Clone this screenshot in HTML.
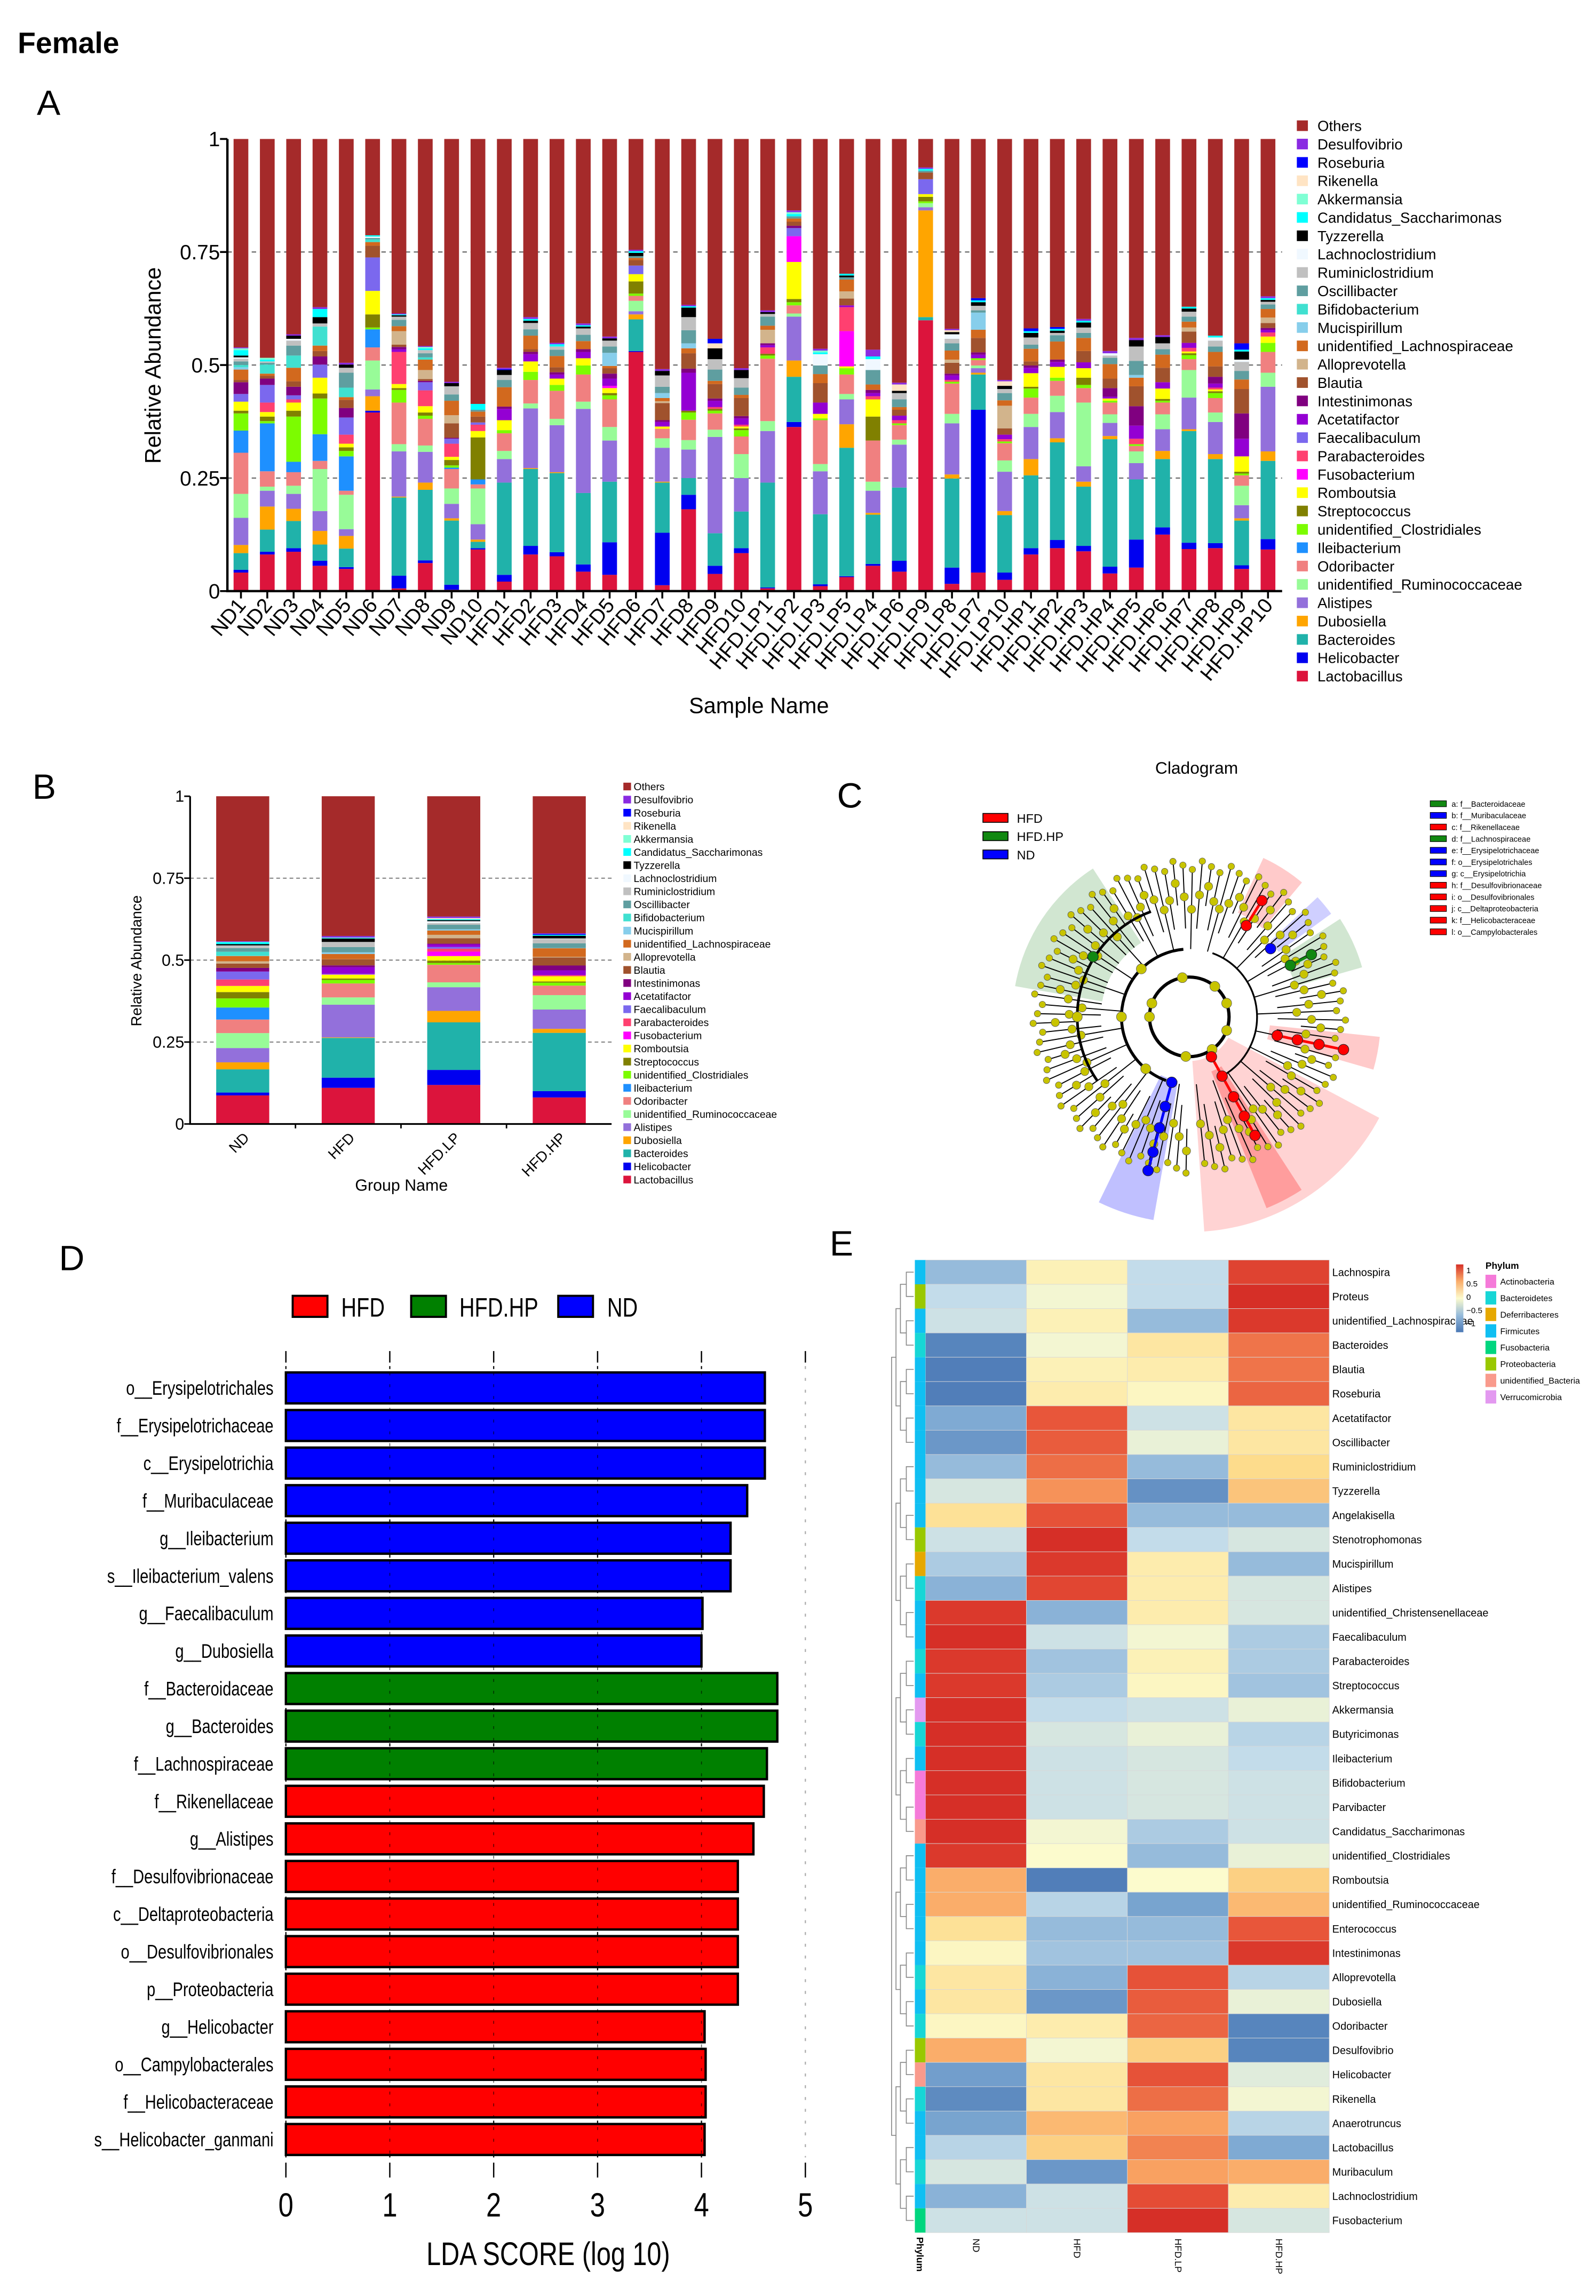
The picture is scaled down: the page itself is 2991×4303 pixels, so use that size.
<!DOCTYPE html>
<html><head><meta charset="utf-8">
<style>
html,body{margin:0;padding:0;background:#fff;}
svg{display:block;}
text{font-family:"Liberation Sans",sans-serif;fill:#000;}
</style></head>
<body>
<svg id="fig" xmlns="http://www.w3.org/2000/svg" width="2991" height="4303" viewBox="0 0 1083 1558" preserveAspectRatio="none">
<rect x="0" y="0" width="1083" height="1558" fill="#fff"/>
<text x="12" y="36" font-size="20" font-weight="bold">Female</text>
<text x="25" y="78" font-size="24">A</text>
<text x="22" y="542" font-size="24">B</text>
<text x="568" y="548" font-size="24">C</text>
<text x="40" y="862" font-size="24">D</text>
<text x="563" y="852" font-size="24">E</text>
<g id="pa"></g>
<g id="pb"></g>
<g id="pc"></g>
<g id="pd"></g>
<g id="pe"></g>
</svg>
<script>
// ---------- Panel A data ----------
const samples = ['ND1','ND2','ND3','ND4','ND5','ND6','ND7','ND8','ND9','ND10','HFD1','HFD2','HFD3','HFD4','HFD5','HFD6','HFD7','HFD8','HFD9','HFD10','HFD.LP1','HFD.LP2','HFD.LP3','HFD.LP5','HFD.LP4','HFD.LP6','HFD.LP9','HFD.LP8','HFD.LP7','HFD.LP10','HFD.HP1','HFD.HP2','HFD.HP3','HFD.HP4','HFD.HP5','HFD.HP6','HFD.HP7','HFD.HP8','HFD.HP9','HFD.HP10'];
// stack order bottom -> top (Others computed as remainder)
const genera = ['Lactobacillus','Helicobacter','Bacteroides','Dubosiella','Alistipes','unidentified_Ruminococcaceae','Odoribacter','Ileibacterium','unidentified_Clostridiales','Streptococcus','Romboutsia','Fusobacterium','Parabacteroides','Faecalibaculum','Acetatifactor','Intestinimonas','Blautia','Alloprevotella','unidentified_Lachnospiraceae','Mucispirillum','Bifidobacterium','Oscillibacter','Ruminiclostridium','Lachnoclostridium','Tyzzerella','Candidatus_Saccharimonas','Akkermansia','Rikenella','Roseburia','Desulfovibrio'];
const genusColors = ['#dc143c','#0000f0','#20b2aa','#ffa500','#9370db','#98fb98','#f08080','#1e90ff','#7cfc00','#808000','#ffff00','#ff00ff','#ff4070','#7b68ee','#9400d3','#800080','#a0522d','#d2b48c','#d2691e','#87ceeb','#40e0d0','#5f9ea0','#c0c0c0','#f0f8ff','#000000','#00ffff','#7fffd4','#ffe4c4','#0000ff','#8a2be2'];
const othersColor = '#a52a2a';
const vLac=[.041,.081,.087,.056,.049,.395,.006,.062,.003,.092, .021,.081,.077,.043,.036,.529,.013,.181,.038,.084, .006,.363,.011,.031,.056,.043,.599,.016,.041,.025, .081,.095,.088,.039,.052,.125,.093,.095,.049,.092];
const vHel=[.006,.006,.008,.011,.004,.004,.028,.006,.011,.003, .015,.019,.009,.016,.072,.002,.116,.032,.018,.011, .002,.011,.004,.002,.004,.024,0,.036,.36,.016, .014,.018,.012,.015,.062,.016,.014,.011,.008,.023];
const vBac=[.037,.049,.06,.036,.041,0,.173,.156,.142,.014, .204,.17,.175,.158,.134,.07,.111,.037,.072,.081, .232,.1,.155,.284,.109,.162,.007,.197,.078,.127, .161,.216,.131,.282,.133,.151,.247,.186,.099,.173];
const vDub=[.018,.051,.027,.03,.028,.032,.002,.016,.005,.005, 0,.002,.002,0,0,.011,.002,0,0,0, 0,.036,0,.052,.004,0,.236,.009,.004,.009, .036,.009,.011,.007,0,.018,.004,.011,.005,.021];
const vAli=[.06,.035,.033,.044,.015,.015,.1,.068,.032,.034, .052,.132,.104,.186,.091,.007,.075,.063,.213,.074, .114,.097,.095,.055,.049,.095,.007,.113,.01,.087, .071,.058,.034,.029,.036,.048,.07,.071,.029,.143];
const vRum=[.053,.009,.018,.093,.076,.064,.016,.014,.034,.079, .018,.011,.014,.016,.03,.023,.021,.021,.016,.053, .022,.007,.016,.012,.02,.011,.009,.021,.006,.025, .029,.036,.141,.019,.026,.033,.061,.021,.043,.031];
const vOdo=[.091,.034,.03,.018,.009,.029,.092,.059,.043,.009, .039,.052,.062,.06,.061,.011,.021,.045,.036,.039, .138,.018,.097,.043,.091,.032,0,.067,.012,.038, .036,.033,.032,.026,.012,.026,.024,.032,.023,.046];
const vIle=[.049,.106,.023,.059,.076,.04,0,0,.003,.011, 0,0,0,0,0,0,0,0,0,0, 0,0,0,0,0,0,0,0,0,0, 0,0,0,0,0,0,0,0,0,0];
const vClo=[.038,.005,.1,.079,.012,.004,.028,.007,.005,0, .007,.018,.013,.02,.009,.005,0,.016,.006,.014, .007,.007,.004,.014,0,.004,.004,.004,.004,.004, .02,.007,.007,.004,.004,.004,.009,.011,.004,.02];
const vStr=[.006,.01,.013,.011,.008,.029,.004,.007,.012,.093, 0,0,0,0,.005,.027,0,.004,.004,.004, .004,.007,0,0,.053,0,.01,0,0,0, .004,0,.016,0,0,.004,.004,.004,.004,0];
const vRom=[.02,.01,.018,.035,.008,.052,.009,.014,.007,.014, .022,.023,.014,.016,.011,.016,.005,0,0,.004, 0,.082,.01,.004,.038,0,.006,0,0,0, .03,.024,.021,.005,0,.023,.004,.004,.034,.014];
const vFus=[0,0,0,0,0,0,0,0,0,0, 0,0,0,0,.005,0,0,0,0,0, 0,.057,0,.078,0,0,0,0,0,0, 0,0,0,0,0,0,0,0,0,0];
const vPar=[0,.021,.007,0,.02,0,.071,.035,.029,.014, 0,0,0,0,0,0,0,0,.004,.004, .014,0,0,.053,.007,.007,0,.004,0,.005, 0,0,0,0,.012,0,.008,.004,0,.009];
const vFae=[.017,.039,.009,.029,.038,.074,0,.018,.011,.005, 0,0,0,0,0,.019,0,0,0,0, 0,.018,0,0,0,0,.033,0,0,0, 0,0,0,0,0,0,0,0,0,0];
const vAce=[0,0,0,0,0,0,.006,0,0,0, .025,.016,.009,.014,.016,0,.01,.084,.014,.014, .005,0,.025,.004,.007,.01,0,.01,.008,.01, .012,.011,.013,.004,.029,.014,.011,.009,.039,.006];
const vInt=[.026,.014,.019,.018,.021,0,.005,.003,.002,0, .005,.005,.005,.006,.011,0,.004,.009,.005,.005, .004,.005,0,0,.007,0,0,.004,.005,0, .005,.005,0,.019,.043,0,0,.015,.056,.004];
const vBla=[.005,.006,.012,.012,.018,.026,.005,.004,.032,.013, 0,.006,.011,0,.012,.012,.038,.034,.032,.04, 0,.009,.043,.015,0,.013,.015,.024,.032,.014, .009,0,.025,.021,.044,.032,.025,.023,.054,.011];
const vAll=[0,0,0,0,0,0,.03,.02,.018,0, 0,0,0,0,0,0,.004,0,0,0, .03,0,0,.016,0,0,0,.007,0,.05, 0,0,0,0,0,0,.009,0,0,.012];
const vLach=[.023,.005,.03,.012,.006,.008,.011,.023,.032,.011, .043,.03,.025,.018,.005,.005,.007,.011,.007,.007, .009,.007,.02,.026,.012,.006,0,.02,.018,.012, .028,.04,.029,.032,.019,.029,.013,.032,.021,.019];
const vMuc=[.005,0,0,0,0,0,0,0,0,0, 0,0,0,0,.029,0,.011,.011,0,0, 0,0,0,0,0,0,0,0,.038,0, 0,0,0,0,.006,0,0,0,0,0];
const vBif=[.005,.02,.027,.042,.021,.006,0,.005,0,0, 0,0,0,0,0,0,0,0,0,0, 0,0,0,0,0,0,0,0,0,0, 0,0,0,0,0,0,0,0,0,0];
const vOsc=[.008,.004,.022,0,.033,.003,.014,.009,.014,.004, .016,.014,.014,.014,.014,.004,.014,.029,.025,.016, .02,.005,.019,.005,.032,.017,.004,.016,.005,.016, .009,.014,.011,.014,.031,.012,.011,.012,.019,.01];
const vRmc=[.006,.003,.011,.007,.011,0,.007,.007,.018,0, .011,.014,.007,.014,.013,0,.025,.029,.023,.021, .006,0,0,0,0,.014,0,.01,.01,.009, .016,.005,.012,.005,.032,.013,.011,.013,.02,.006];
const vLcl=[.003,0,.004,0,0,.003,0,0,0,0, 0,0,0,0,0,0,0,0,0,0, 0,0,.025,0,.024,0,0,.01,0,0, 0,0,0,.005,0,0,0,.007,.005,0];
const vTyz=[.004,0,.007,.014,.007,0,.003,0,.007,0, .011,.005,0,.004,.005,.007,.01,.021,.024,.018, .004,0,0,.004,0,.005,0,.005,.008,.007, .01,.005,.011,0,.014,.014,.007,0,.018,.004];
const vCan=[.012,.004,0,.018,0,.003,.002,.004,0,.013, 0,.004,.005,.003,0,.004,0,.003,0,0, 0,.005,.004,.004,.006,0,.004,0,.004,0, .004,.004,.004,0,0,0,.004,.004,.004,.004];
const vAkk=[.004,.004,0,0,0,0,0,.003,0,0, 0,0,0,0,0,0,0,0,0,0, 0,.004,.004,0,0,0,0,0,0,0, 0,0,0,0,0,0,0,0,0,0];
const vRik=[0,0,0,0,0,0,0,0,0,0, 0,0,0,0,0,0,0,0,.011,0, 0,0,0,0,0,.014,0,.004,0,.01, 0,0,0,0,0,0,0,0,0,0];
const vRos=[0,0,0,0,0,0,0,0,0,0, .002,0,0,0,0,0,0,0,.01,0, 0,0,0,0,0,0,0,0,.005,0, .006,.004,0,0,0,0,0,0,.014,0];
const vDes=[.002,0,.003,.004,.004,0,.002,.002,.003,0, .003,.004,.003,.004,.004,.003,.004,.003,0,.004, .004,.004,.004,0,.015,.004,.003,.003,0,.003, 0,0,.004,.005,.005,.004,0,0,0,.004];
const seriesA = [vLac,vHel,vBac,vDub,vAli,vRum,vOdo,vIle,vClo,vStr,vRom,vFus,vPar,vFae,vAce,vInt,vBla,vAll,vLach,vMuc,vBif,vOsc,vRmc,vLcl,vTyz,vCan,vAkk,vRik,vRos,vDes];
const yTicksA = [0,0.25,0.5,0.75,1];
const yTickLabelsA = ['0','0.25','0.5','0.75','1'];

// ---------- Panel B ----------
const groupNames = ['ND','HFD','HFD.LP','HFD.HP'];

// ---------- Panel D data ----------
const ldaLabels = ['o__Erysipelotrichales','f__Erysipelotrichaceae','c__Erysipelotrichia','f__Muribaculaceae','g__Ileibacterium','s__Ileibacterium_valens','g__Faecalibaculum','g__Dubosiella','f__Bacteroidaceae','g__Bacteroides','f__Lachnospiraceae','f__Rikenellaceae','g__Alistipes','f__Desulfovibrionaceae','c__Deltaproteobacteria','o__Desulfovibrionales','p__Proteobacteria','g__Helicobacter','o__Campylobacterales','f__Helicobacteraceae','s__Helicobacter_ganmani'];
const ldaValues = [4.61,4.61,4.61,4.44,4.28,4.28,4.01,4.00,4.73,4.73,4.63,4.60,4.50,4.35,4.35,4.35,4.35,4.03,4.04,4.04,4.03];
const ldaGroups = ['ND','ND','ND','ND','ND','ND','ND','ND','HFD.HP','HFD.HP','HFD.HP','HFD','HFD','HFD','HFD','HFD','HFD','HFD','HFD','HFD','HFD'];
const ldaTicks = [0,1,2,3,4,5];

// ---------- Panel E data ----------
const hmRows = ['Lachnospira','Proteus','unidentified_Lachnospiraceae','Bacteroides','Blautia','Roseburia','Acetatifactor','Oscillibacter','Ruminiclostridium','Tyzzerella','Angelakisella','Stenotrophomonas','Mucispirillum','Alistipes','unidentified_Christensenellaceae','Faecalibaculum','Parabacteroides','Streptococcus','Akkermansia','Butyricimonas','Ileibacterium','Bifidobacterium','Parvibacter','Candidatus_Saccharimonas','unidentified_Clostridiales','Romboutsia','unidentified_Ruminococcaceae','Enterococcus','Intestinimonas','Alloprevotella','Dubosiella','Odoribacter','Desulfovibrio','Helicobacter','Rikenella','Anaerotruncus','Lactobacillus','Muribaculum','Lachnoclostridium','Fusobacterium'];
const hmCols = ['ND','HFD','HFD.LP','HFD.HP'];
const hmND  = [-0.5,-0.3,-0.25,-0.9,-0.95,-0.95,-0.6,-0.75,-0.5,-0.2,0.25,-0.25,-0.4,-0.55,0.95,1,0.95,0.95,1,1,1,1,1,1,0.95,0.5,0.5,0.25,0.05,0.2,0.2,0.05,0.5,-0.7,-0.85,-0.65,-0.35,-0.2,-0.55,-0.25];
const hmHFD = [0.1,-0.05,0.1,-0.05,0.1,0.15,0.8,0.78,0.72,0.6,0.82,1,0.95,0.88,-0.55,-0.25,-0.45,-0.4,-0.3,-0.2,-0.25,-0.25,-0.25,-0.05,0,-0.95,-0.35,-0.5,-0.45,-0.55,-0.75,0.15,-0.05,0.2,0.2,0.45,0.35,-0.75,-0.25,-0.25];
const hmLP  = [-0.3,-0.3,-0.5,0.2,0.15,0.05,-0.25,-0.1,-0.5,-0.8,-0.5,-0.3,0.15,0.15,0.15,-0.05,0.1,0.05,-0.25,-0.1,-0.2,-0.2,-0.2,-0.4,-0.5,0,-0.65,-0.5,-0.45,0.82,0.78,0.75,0.35,0.82,0.72,0.55,0.65,0.55,0.85,1];
const hmHP  = [0.9,1,0.95,0.7,0.7,0.75,0.2,0.2,0.3,0.4,-0.5,-0.2,-0.5,-0.2,-0.2,-0.4,-0.4,-0.45,-0.1,-0.35,-0.3,-0.25,-0.25,-0.25,-0.1,0.35,0.45,0.8,0.95,-0.35,-0.1,-0.9,-0.9,-0.15,-0.05,-0.35,-0.6,0.5,0.15,-0.2];
const hmPhylum = ['Firmicutes','Proteobacteria','Firmicutes','Bacteroidetes','Firmicutes','Firmicutes','Firmicutes','Firmicutes','Firmicutes','Firmicutes','Firmicutes','Proteobacteria','Deferribacteres','Bacteroidetes','Firmicutes','Firmicutes','Bacteroidetes','Firmicutes','Verrucomicrobia','Bacteroidetes','Firmicutes','Actinobacteria','Actinobacteria','unidentified_Bacteria','Firmicutes','Firmicutes','Firmicutes','Firmicutes','Firmicutes','Bacteroidetes','Firmicutes','Bacteroidetes','Proteobacteria','unidentified_Bacteria','Bacteroidetes','Firmicutes','Firmicutes','Bacteroidetes','Firmicutes','Fusobacteria'];
const phylumNames = ['Actinobacteria','Bacteroidetes','Deferribacteres','Firmicutes','Fusobacteria','Proteobacteria','unidentified_Bacteria','Verrucomicrobia'];
const phylumColors = ['#f57ad9','#17d6d6','#e6a800','#10bff2','#00d67f','#99c800','#f99a8c','#e399f0'];

// ---------- helpers ----------
const NS='http://www.w3.org/2000/svg';
function mk(tag, attrs, parent){
  const e=document.createElementNS(NS,tag);
  for(const k in attrs) e.setAttribute(k, attrs[k]);
  parent.appendChild(e);
  return e;
}
function txt(parent, x, y, s, size, extra){
  const t=mk('text', Object.assign({x:x,y:y,'font-size':size}, extra||{}), parent);
  t.textContent=s;
  return t;
}

// ================= Panel A =================
(function(){
  const g=document.getElementById('pa');
  const x0=154.3, xEnd=870, yA=v=>401.1-306.8*v, xA=i=>163.5+17.87*i, bw=10;
  yTicksA.forEach((v,k)=>{
    if(v>0 && v<1){
      const l=mk('line',{x1:x0,x2:xEnd,y1:yA(v),y2:yA(v),stroke:'#777','stroke-width':0.9,'stroke-dasharray':'3,2.5'},g);
      
      
    }
    const tk=mk('line',{x1:x0-5,x2:x0,y1:yA(v),y2:yA(v),stroke:'#000','stroke-width':1.3},g);
    
    
    const t=txt(g,x0-5,yA(v)+5,yTickLabelsA[k],14,{'text-anchor':'end'});
    
    
  });
  samples.forEach((s,i)=>{
    let acc=0;
    seriesA.forEach((arr,j)=>{
      const v=arr[i]; if(!v) return;
      const r=mk('rect',{x:xA(i)-bw/2,y:yA(acc+v),width:bw,height:306.8*v,fill:genusColors[j]},g);
      
      
      acc+=v;
    });
    const r=mk('rect',{x:xA(i)-bw/2,y:yA(1),width:bw,height:306.8*(1-acc),fill:othersColor},g);
    
    
    const tk=mk('line',{x1:xA(i),x2:xA(i),y1:yA(0),y2:yA(0)+5,stroke:'#000','stroke-width':1.3},g);
    
    
    const t=txt(g,0,0,s,14,{'text-anchor':'end',transform:'translate('+(xA(i)+4)+','+(yA(0)+10)+') rotate(-50)'});
    
    
  });
  const ax=mk('path',{d:'M'+x0+','+yA(1)+' V'+yA(0)+' H'+xEnd,fill:'none',stroke:'#000','stroke-width':1.6},g);
  
  
  const yt=txt(g,0,0,'Relative Abundance',15,{'text-anchor':'middle',transform:'translate(109,248) rotate(-90)'});
  
  
  const xt=txt(g,515,484,'Sample Name',15,{'text-anchor':'middle'});
  
  
  const names=['Others'].concat(genera.slice().reverse());
  const cols=[othersColor].concat(genusColors.slice().reverse());
  names.forEach((n,k)=>{
    const y=85.3+k*12.45;
    const b=mk('rect',{x:880,y:y-3.6,width:7.5,height:7.2,fill:cols[k]},g);
    
    
    const t=txt(g,894,y+3.6,n,10);
    
    
  });
})();

// ================= Panel B =================
(function(){
  const g=document.getElementById('pb');
  const x0=129, xEnd=415, yB=v=>762.7-222.4*v, bw=36, xB=i=>164.7+71.6*i;
  yTicksA.forEach((v,k)=>{
    if(v>0 && v<1){
      const l=mk('line',{x1:x0,x2:xEnd,y1:yB(v),y2:yB(v),stroke:'#777','stroke-width':0.7,'stroke-dasharray':'2.5,2'},g);
      
      
    }
    const tk=mk('line',{x1:x0-4,x2:x0,y1:yB(v),y2:yB(v),stroke:'#000','stroke-width':1},g);
    
    
    const t=txt(g,x0-4,yB(v)+3.8,yTickLabelsA[k],11,{'text-anchor':'end'});
    
    
  });
  groupNames.forEach((gn,gi)=>{
    let acc=0;
    seriesA.forEach((arr,j)=>{
      let s=0; for(let q=gi*10;q<gi*10+10;q++) s+=arr[q];
      const v=s/10; if(!v) return;
      const r=mk('rect',{x:xB(gi)-bw/2,y:yB(acc+v),width:bw,height:222.4*v,fill:genusColors[j]},g);
      
      
      acc+=v;
    });
    const r=mk('rect',{x:xB(gi)-bw/2,y:yB(1),width:bw,height:222.4*(1-acc),fill:othersColor},g);
    
    
    if(gi<3){
      const tk=mk('line',{x1:xB(gi)+35.8,x2:xB(gi)+35.8,y1:yB(0),y2:yB(0)+3,stroke:'#000','stroke-width':1},g);
      
      
    }
    const t=txt(g,0,0,gn,10,{'text-anchor':'end',transform:'translate('+(xB(gi)+5)+','+(yB(0)+10)+') rotate(-45)'});
    
    
  });
  const ax=mk('path',{d:'M'+x0+','+yB(1)+' V'+yB(0)+' H'+xEnd,fill:'none',stroke:'#000','stroke-width':1.2},g);
  
  
  const yt=txt(g,0,0,'Relative Abundance',10,{'text-anchor':'middle',transform:'translate(96,652) rotate(-90)'});
  
  
  const xt=txt(g,272.4,808,'Group Name',11,{'text-anchor':'middle'});
  
  
  const names=['Others'].concat(genera.slice().reverse());
  const cols=[othersColor].concat(genusColors.slice().reverse());
  names.forEach((n,k)=>{
    const y=533.7+k*8.89;
    const b=mk('rect',{x:423,y:y-2.6,width:5.2,height:5.2,fill:cols[k]},g);
    
    
    const t=txt(g,430,y+2.6,n,7);
    
    
  });
})();

// ================= Panel C (cladogram) =================
(function(){
  const g=document.getElementById('pc');
  const cx=807, cy=690;
  const P=(r,a)=>[cx+r*Math.cos(a*Math.PI/180), cy-r*Math.sin(a*Math.PI/180)];
  function wedge(a1,a2,r1,r2,fill,op,name){
    const p1=P(r1,a1),p2=P(r2,a1),p3=P(r2,a2),p4=P(r1,a2);
    const large=(a2-a1)>180?1:0;
    const d='M'+p1+' L'+p2+' A'+r2+','+r2+' 0 '+large+' 0 '+p3+' L'+p4+' A'+r1+','+r1+' 0 '+large+' 1 '+p1+' Z';
    const e=mk('path',{d:d,fill:fill,'fill-opacity':op},g);
    
    
  }
  wedge(123,170,60,120,'#2e8b2e',0.22,'clade-highlight-lachnospiraceae');
  wedge(-86,-28,30,146,'#ff5050',0.25,'clade-highlight-proteobacteria');
  wedge(-68,-57,40,140,'#ff2020',0.3,'clade-highlight-deltaproteobacteria');
  wedge(-116,-100,44,140,'#3030ff',0.3,'clade-highlight-erysipelotrichia');
  wedge(50,65,78,119,'#ff5050',0.3,'clade-highlight-rikenellaceae');
  wedge(36,43,75,119,'#4040ff',0.25,'clade-highlight-muribaculaceae');
  wedge(16,33,75,122,'#2e8b2e',0.22,'clade-highlight-bacteroidaceae');
  wedge(-16,-6,55,130,'#ff5050',0.3,'clade-highlight-helicobacteraceae');
  const leafAngles=[];
  for(let a=-84;a<272;a+=3.6) leafAngles.push(a);
  leafAngles.forEach((a,k)=>{
    const rIn = (k%4===0)?46:((k%4===2)?76:60);
    const rOut = 100 + (k%3)*3;
    const p1=P(rIn,a), p2=P(rOut,a);
    const l=mk('line',{x1:p1[0],y1:p1[1],x2:p2[0],y2:p2[1],stroke:'#000','stroke-width':0.7},g);
    
    
    [rIn+(rOut-rIn)*0.5, rOut].forEach((r,q)=>{
      const p=P(r,a);
      const c=mk('circle',{cx:p[0],cy:p[1],r:q?2.2:2.8,fill:'#c8c400',stroke:'#555','stroke-width':0.3},g);
      
      
    });
  });
  const ring=mk('circle',{cx:cx,cy:cy,r:27,fill:'none',stroke:'#000','stroke-width':2.2},g);
  
  
  function arc(r,a1,a2,w){
    const p1=P(r,a1),p2=P(r,a2);
    const e=mk('path',{d:'M'+p1+' A'+r+','+r+' 0 '+((a2-a1)>180?1:0)+' 0 '+p2,fill:'none',stroke:'#000','stroke-width':w},g);
    
    
  }
  arc(46,95,250,2);
  arc(76,110,215,1.8);
  arc(46,-60,70,1.2);
  [[27,100],[27,160],[27,180],[27,-95],[27,-55],[27,-20],[27,20],[27,50],[46,180],[46,135],[46,230],[76,180]].forEach(d=>{
    const p=P(d[0],d[1]);
    const c=mk('circle',{cx:p[0],cy:p[1],r:3.4,fill:'#c8c400',stroke:'#555','stroke-width':0.3},g);
    
    
  });
  function hpath(a,radii,col,name){
    const pts=radii.map(r=>P(r,a));
    const l=mk('polyline',{points:pts.map(p=>p.join(',')).join(' '),fill:'none',stroke:col,'stroke-width':1.8},g);
    
    
    pts.forEach(p=>{
      const c=mk('circle',{cx:p[0],cy:p[1],r:3.6,fill:col,stroke:'#222','stroke-width':0.4},g);
      
      
    });
  }
  hpath(-61,[31,46,62,77,92],'#ff0000','hfd-proteobacteria');
  hpath(-105,[46,63,78,95,108],'#0000ff','nd-erysipelotrichia');
  hpath(-12,[61,75,90,107],'#ff0000','hfd-helicobacteraceae');
  hpath(27,[77,93],'#118811','hfdhp-bacteroidaceae');
  hpath(58,[73,93],'#ff0000','hfd-rikenellaceae');
  hpath(40,[72],'#0000ff','nd-muribaculaceae');
  hpath(148,[77],'#118811','hfdhp-lachnospiraceae');
  const title=txt(g,812,525,'Cladogram',11.5,{'text-anchor':'middle'});
  
  
  [['HFD','#ff0000'],['HFD.HP','#118811'],['ND','#0000ff']].forEach((d,k)=>{
    const y=555+k*12.4;
    const b=mk('rect',{x:667,y:y-3,width:17,height:6,fill:d[1],stroke:'#000','stroke-width':0.6},g);
    
    
    const t=txt(g,690,y+3.3,d[0],8.5);
    
    
  });
  const taxa=[['a: f__Bacteroidaceae','#118811'],['b: f__Muribaculaceae','#0000ff'],['c: f__Rikenellaceae','#ff0000'],['d: f__Lachnospiraceae','#118811'],['e: f__Erysipelotrichaceae','#0000ff'],['f: o__Erysipelotrichales','#0000ff'],['g: c__Erysipelotrichia','#0000ff'],['h: f__Desulfovibrionaceae','#ff0000'],['i: o__Desulfovibrionales','#ff0000'],['j: c__Deltaproteobacteria','#ff0000'],['k: f__Helicobacteraceae','#ff0000'],['l: o__Campylobacterales','#ff0000']];
  taxa.forEach((d,k)=>{
    const y=545.4+k*7.9;
    const b=mk('rect',{x:970.5,y:y-2,width:11,height:4,fill:d[1],stroke:'#000','stroke-width':0.4},g);
    
    
    const t=txt(g,985,y+2,d[0],5.3);
    
    
  });
})();

// ================= Panel D (LDA) =================
(function(){
  const g=document.getElementById('pd');
  const xD=v=>194+70.5*v, yRow=i=>931.3+25.5*i, bh=21, sx=0.78;
  const gcol={'HFD':'#ff0000','HFD.HP':'#008000','ND':'#0000ff'};
  const lastBottom=yRow(ldaLabels.length-1)+bh;
  ldaTicks.forEach(t=>{
    const a=mk('line',{x1:xD(t),x2:xD(t),y1:916.8,y2:924.6,stroke:'#000','stroke-width':0.9},g);
    
    
    const b=mk('line',{x1:xD(t),x2:xD(t),y1:1467.5,y2:1477.6,stroke:'#000','stroke-width':0.9},g);
    
    
    const gl=mk('line',{x1:xD(t),x2:xD(t),y1:927,y2:1464,stroke:t===5?'#aaa':'#000','stroke-width':0.8,'stroke-dasharray':'2,6'},g);
    
    
    const lb=txt(g,0,0,String(t),23,{'text-anchor':'middle',transform:'translate('+xD(t)+',1504) scale(0.8,1)'});
    
    
  });
  ldaLabels.forEach((n,i)=>{
    const r=mk('rect',{x:xD(0),y:yRow(i),width:xD(ldaValues[i])-xD(0),height:bh,fill:gcol[ldaGroups[i]],stroke:'#000','stroke-width':1.6},g);
    
    
    const t=txt(g,0,0,n,13.5,{'text-anchor':'end',transform:'translate(185.6,'+(yRow(i)+bh/2+4.7)+') scale('+sx+',1)'});
    
    
  });
  ldaTicks.slice(1,5).forEach(t=>{
    const gl=mk('line',{x1:xD(t),x2:xD(t),y1:yRow(0),y2:lastBottom,stroke:'#000','stroke-width':0.6,'stroke-dasharray':'2,6','stroke-opacity':0.6},g);
    
    
  });
  const xt=txt(g,0,0,'LDA SCORE (log 10)',22,{'text-anchor':'middle',transform:'translate(372,1537) scale(0.8,1)'});
  
  
  [['HFD','#ff0000',198.6,231.5],['HFD.HP','#008000',279,311.7],['ND','#0000ff',378.8,412]].forEach(d=>{
    const b=mk('rect',{x:d[2],y:879.3,width:23.6,height:14.3,fill:d[1],stroke:'#000','stroke-width':1.4},g);
    
    
    const t=txt(g,0,0,d[0],18,{transform:'translate('+d[3]+',893.5) scale(0.8,1)'});
    
    
  });
})();

// ================= Panel E (heatmap) =================
(function(){
  const g=document.getElementById('pe');
  const x0=628, cw=(902-628)/4, y0=855, rh=16.5;
  const stops=[[-1,[74,120,181]],[-0.6,[127,170,211]],[-0.3,[195,220,234]],[0,[252,251,205]],[0.3,[253,220,140]],[0.55,[249,161,97]],[0.8,[232,86,58]],[1,[214,47,39]]];
  function col(v){
    v=Math.max(-1,Math.min(1,v));
    for(let k=0;k<stops.length-1;k++){
      const a=stops[k],b=stops[k+1];
      if(v<=b[0]){const t=(v-a[0])/(b[0]-a[0]);return 'rgb('+a[1].map((c,q)=>Math.round(c+(b[1][q]-c)*t)).join(',')+')';}
    }
    return 'rgb(214,47,39)';
  }
  const cols=[hmND,hmHFD,hmLP,hmHP];
  hmRows.forEach((n,i)=>{
    cols.forEach((arr,c)=>{
      const r=mk('rect',{x:x0+c*cw,y:y0+i*rh,width:cw,height:rh,fill:col(arr[i]),stroke:'#d8d8d8','stroke-width':0.3},g);
      
      
    });
    const pc=mk('rect',{x:x0-7.2,y:y0+i*rh,width:7.2,height:rh,fill:phylumColors[phylumNames.indexOf(hmPhylum[i])]},g);
    
    
    const t=txt(g,904,y0+i*rh+rh/2+2.6,n,7.2);
    
    
  });
  const rc=i=>y0+i*rh+rh/2;
  const xl=x0-8;
  let d='';
  for(let i=0;i<40;i+=2){d+='M'+xl+','+rc(i)+' H'+(xl-5)+' V'+rc(i+1)+' H'+xl+' ';}
  for(let i=0;i<40;i+=4){d+='M'+(xl-5)+','+((rc(i)+rc(i+1))/2)+' H'+(xl-9)+' V'+((rc(i+2)+rc(i+3))/2)+' H'+(xl-5)+' ';}
  for(let i=0;i<40;i+=8){d+='M'+(xl-9)+','+((rc(i)+rc(i+3))/2)+' H'+(xl-12)+' V'+((rc(Math.min(i+4,38))+rc(Math.min(i+7,39)))/2)+' H'+(xl-9)+' ';}
  d+='M'+(xl-12)+','+((rc(1)+rc(6))/2)+' H'+(xl-15)+' V'+((rc(33)+rc(38))/2)+' H'+(xl-12);
  const dg=mk('path',{d:d,fill:'none',stroke:'#888','stroke-width':0.6},g);
  
  
  hmCols.forEach((c,k)=>{
    const t=txt(g,0,0,c,6.5,{transform:'translate('+(x0+k*cw+cw/2-2)+','+(y0+40*rh+4)+') rotate(90)'});
    
    
  });
  const pl=txt(g,0,0,'Phylum',6.5,{'font-weight':'bold',transform:'translate('+(x0-6)+','+(y0+40*rh+3)+') rotate(90)'});
  
  
  const defs=mk('defs',{},g);
  const lg=mk('linearGradient',{id:'cbar',x1:0,y1:0,x2:0,y2:1},defs);
  [[0,1],[0.25,0.5],[0.5,0],[0.75,-0.5],[1,-1]].forEach(s=>{mk('stop',{offset:s[0],'stop-color':col(s[1])},lg);});
  const cb=mk('rect',{x:988,y:858,width:5,height:46,fill:'url(#cbar)'},g);
  
  
  const cbTicks=[1,0.5,0,-0.5,-1], cbLabels=['1','0.5','0','\u22120.5','\u22121'];
  cbTicks.forEach((v,k)=>{
    const t=txt(g,995,860+(1-v)/2*36+4,cbLabels[k],5.5);
    
    
  });
  const ph=txt(g,1008,861,'Phylum',6.3,{'font-weight':'bold'});
  
  
  phylumNames.forEach((n,k)=>{
    const y=869.5+k*11.2;
    const b=mk('rect',{x:1008,y:y-4.5,width:7.3,height:9,fill:phylumColors[k]},g);
    
    
    const t=txt(g,1018,y+2.2,n,5.8);
    
    
  });
})();
</script>
</body></html>
